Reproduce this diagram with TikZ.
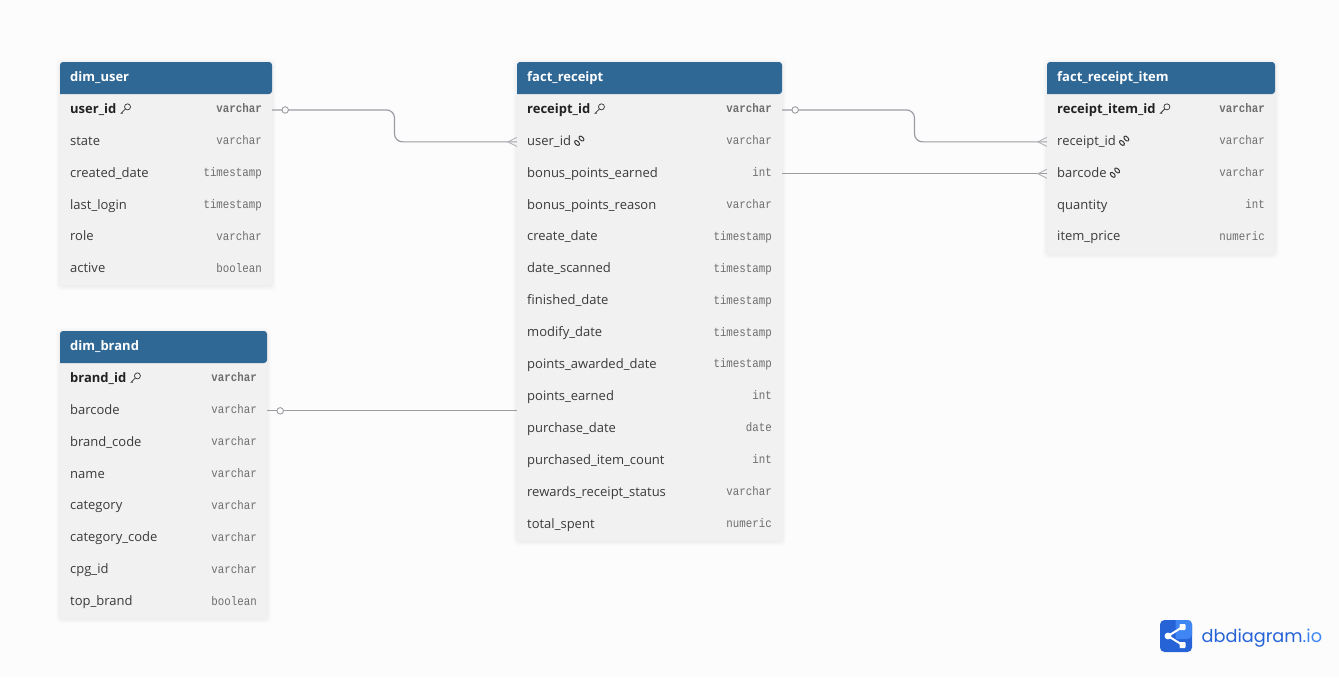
\documentclass[tikz,border=0pt]{standalone}
\usepackage{fontspec}
\setmainfont{Open Sans}
\newfontfamily\monof[FakeStretch=0.87]{Liberation Mono}
\newfontfamily\logof{Poppins}
\definecolor{pagebg}{HTML}{FCFCFD}
\definecolor{headblue}{HTML}{2F6795}
\definecolor{rowbg}{HTML}{F1F1F1}
\definecolor{edgegray}{HTML}{9C9CA3}
\definecolor{nametxt}{HTML}{3A3A3A}
\definecolor{boldtxt}{HTML}{222222}
\definecolor{typetxt}{HTML}{6E6E6E}
\definecolor{logodark}{HTML}{2563D6}
\definecolor{logolight}{HTML}{3F86F2}
\tikzset{
  rowcell/.style={rectangle,inner sep=0pt,minimum height=31.9pt},
  nametext/.style={anchor=base west,inner sep=0pt,font=\fontsize{13}{15}\selectfont,text=nametxt},
  typetext/.style={anchor=base east,inner sep=0pt,font=\monof\fontsize{12.4}{14}\selectfont,text=typetxt},
  headtext/.style={anchor=base west,inner sep=0pt,text=white,font=\bfseries\fontsize{13}{15}\selectfont},
  conn/.style={draw=edgegray,line width=1.2pt,rounded corners=8pt},
  crow/.style={draw=edgegray!80,line width=.9pt},
  onecirc/.style={circle,draw=edgegray,line width=.9pt,fill=pagebg,inner sep=0pt,minimum size=6.5pt},
  iconline/.style={draw=nametxt,line width=.75pt},
}
% #1 prefix, #2 x0, #3 x1, #4 ytop, #5 rows, #6 title, #7 row list
\newcommand{\dbtable}[7]{
  \pgfmathsetmacro\ybot{#4+32+#5*31.9}
  \foreach \shd/\opc in {5/.005,4/.008,3/.01,2/.012,1/.015}{
    \fill[black,opacity=\opc,rounded corners=5pt] (#2-\shd,#4-\shd+1) rectangle (#3+\shd,\ybot+\shd+1);
  }
  \fill[rowbg,rounded corners=3pt] (#2,#4) rectangle (#3,\ybot);
  \fill[headblue,rounded corners=3pt] (#2,#4+32) -- (#2,#4) -- (#3,#4) -- (#3,#4+32) [sharp corners] -- cycle;
  \node[headtext] (#1h) at (#2+10,#4+19) {#6};
  \foreach \nm/\ty/\fl [count=\i] in {#7}{
    \pgfmathsetmacro\yc{#4+32+(\i-.5)*31.9}
    \pgfmathsetmacro\xm{(#2+#3)/2}
    \pgfmathsetmacro\rowW{#3-#2}
    \node[rowcell,minimum width=\rowW pt] (#1\i) at (\xm,\yc) {};
    \if\fl k
      \node[nametext,text=boldtxt,font=\bfseries\fontsize{13}{15}\selectfont] (#1\i n) at (#2+10,\yc+3.4) {\nm};
      \node[typetext,font=\monof\bfseries\fontsize{12.4}{14}\selectfont] (#1\i t) at (#3-10,\yc+2.8) {\ty};
      \coordinate (ic) at ([xshift=9pt,yshift=4.5pt]#1\i n.base east);
      \draw[iconline] ([xshift=2pt,yshift=2pt]ic) circle (3);
      \draw[iconline] ([xshift=-.1pt,yshift=-.1pt]ic) -- ([xshift=-4.5pt,yshift=-4.5pt]ic) -- ([xshift=-2.6pt,yshift=-4.5pt]ic);
    \else
      \node[nametext] (#1\i n) at (#2+10,\yc+3.4) {\nm};
      \node[typetext] (#1\i t) at (#3-10,\yc+2.8) {\ty};
      \if\fl f
        \coordinate (ic) at ([xshift=8pt,yshift=4.5pt]#1\i n.base east);
        \draw[iconline,line width=1pt] ([xshift=2.2pt,yshift=2.2pt]ic) ellipse [x radius=3,y radius=1.8,rotate=-45];
        \draw[iconline,line width=1pt] ([xshift=-2.2pt,yshift=-2.2pt]ic) ellipse [x radius=3,y radius=1.8,rotate=-45];
      \fi
    \fi
  }
}
\begin{document}
\begin{tikzpicture}[x=1pt,y=-1pt]
\useasboundingbox (0,0) rectangle (1339,678);
\fill[pagebg] (0,0) rectangle (1339,678);

\dbtable{u}{60}{272}{62}{6}{dim\_user}{user\_id/varchar/k,state/varchar/n,created\_date/timestamp/n,last\_login/timestamp/n,role/varchar/n,active/boolean/n}
\dbtable{b}{60}{267}{331}{8}{dim\_brand}{brand\_id/varchar/k,barcode/varchar/n,brand\_code/varchar/n,name/varchar/n,category/varchar/n,category\_code/varchar/n,cpg\_id/varchar/n,top\_brand/boolean/n}
\dbtable{r}{517}{782}{62}{14}{fact\_receipt}{receipt\_id/varchar/k,user\_id/varchar/f,bonus\_points\_earned/int/n,bonus\_points\_reason/varchar/n,create\_date/timestamp/n,date\_scanned/timestamp/n,finished\_date/timestamp/n,modify\_date/timestamp/n,points\_awarded\_date/timestamp/n,points\_earned/int/n,purchase\_date/date/n,purchased\_item\_count/int/n,rewards\_receipt\_status/varchar/n,total\_spent/numeric/n}
\dbtable{i}{1047}{1275}{62}{5}{fact\_receipt\_item}{receipt\_item\_id/varchar/k,receipt\_id/varchar/f,barcode/varchar/f,quantity/int/n,item\_price/numeric/n}

% connectors
\coordinate (bendU) at (394.5,126);
\coordinate (bendR) at (914.5,126);
\coordinate (brandEnd) at (b2.east -| r1.west);
\draw[conn] (u1.east) -| (bendU) |- (r2.west);
\draw[conn] (r1.east) -| (bendR) |- (i2.west);
\draw[conn] (r3.east) -- (i3.west);
\draw[conn] (b2.east) -- (brandEnd);
\node[onecirc] (cu) at ([xshift=13pt]u1.east) {};
\node[onecirc] (cr) at ([xshift=13pt]r1.east) {};
\node[onecirc] (cb) at ([xshift=13pt]b2.east) {};
\foreach \tgt in {r2,i2,i3}{
  \draw[crow] (\tgt.west) ++(0,-4.5) -- ++(-9,4.5) -- ++(9,4.5);
}

% logo
\fill[logodark,rounded corners=4.5pt] (1160,620) rectangle (1192,652);
\fill[logolight,rounded corners=4.5pt] (1175.5,620) -- (1192,620) -- (1192,639) [sharp corners] -- (1175.5,639) -- cycle;
\coordinate (lgA) at (1168,636);
\coordinate (lgB) at (1182.5,627);
\coordinate (lgC) at (1182.5,645);
\draw[white,line width=2pt] (lgB) -- (lgA) -- (lgC);
\fill[white] (lgA) circle (3.4);
\fill[white,rounded corners=.8pt] (1179.5,624) rectangle (1185.5,630);
\fill[white,rounded corners=.8pt] (1179.5,642) rectangle (1185.5,648);
\node[anchor=base west,inner sep=0pt,font=\logof\fontsize{17.7}{22}\selectfont,text=logodark] (logo) at (1201.5,642.5) {dbdiagram\textcolor{logolight}{.io}};
\end{tikzpicture}
\end{document}
